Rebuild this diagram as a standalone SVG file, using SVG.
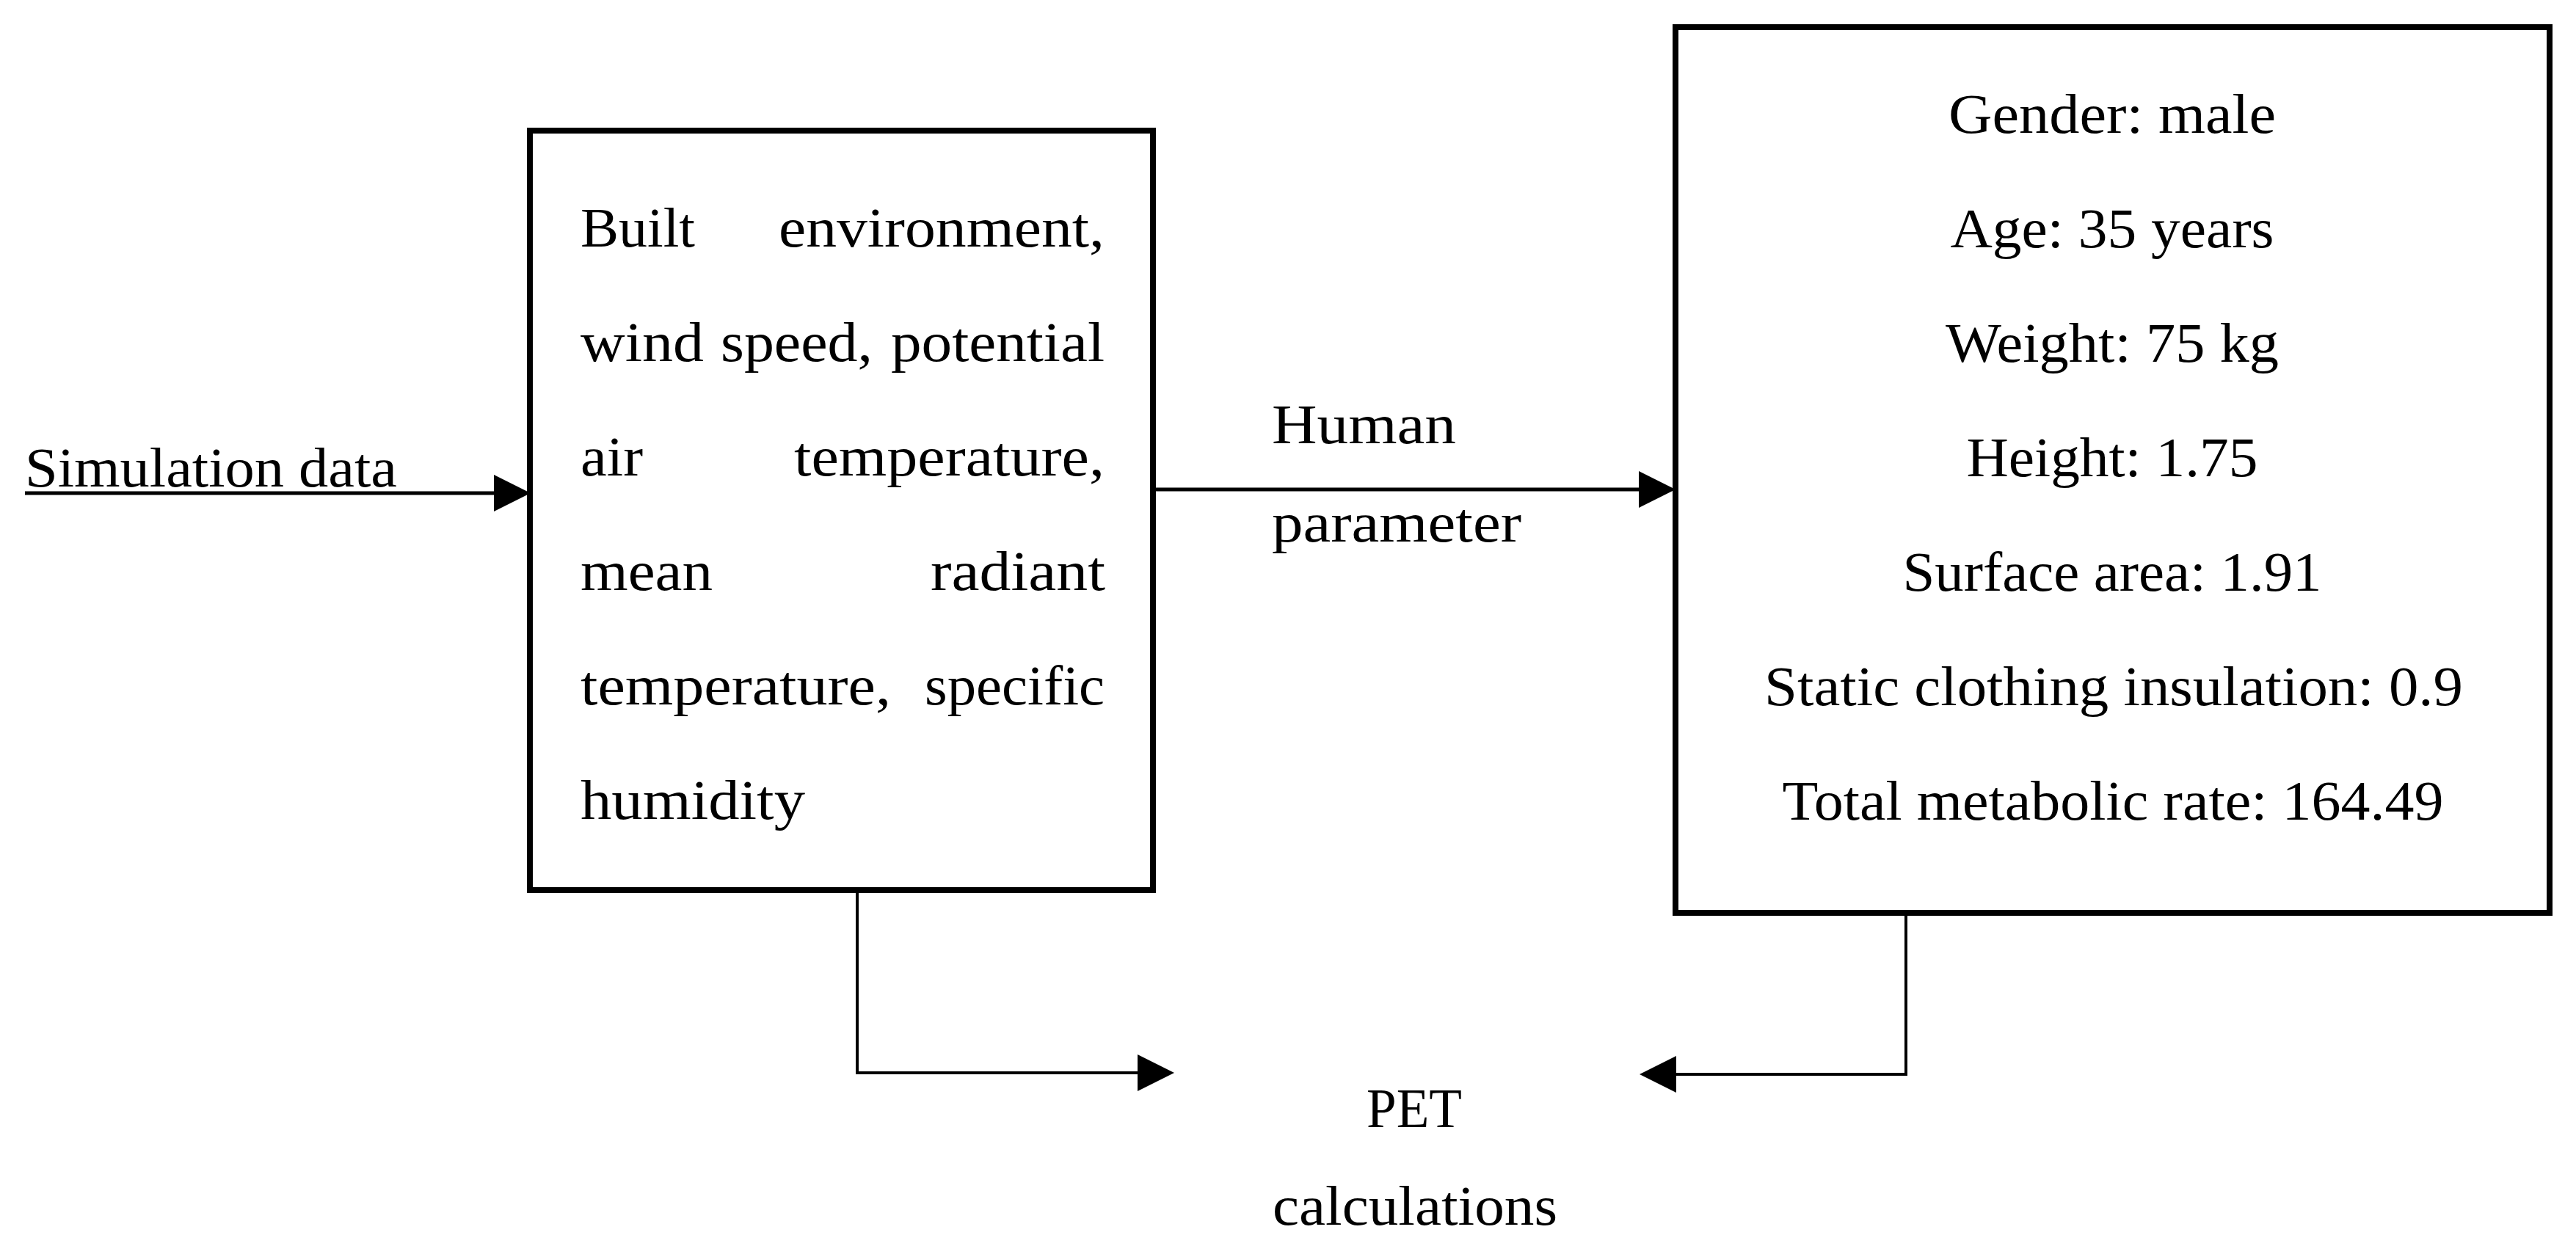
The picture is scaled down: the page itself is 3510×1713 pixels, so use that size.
<svg xmlns="http://www.w3.org/2000/svg" width="3510" height="1713" viewBox="0 0 3510 1713">
<style>
  .box{fill:#fff;stroke:#000;stroke-width:8}
  .t{font-family:"Liberation Serif","Times New Roman",serif;font-size:76px;fill:#000}
  .m{text-anchor:middle}
  .e{text-anchor:end}
  .c{fill:none;stroke:#000;stroke-width:5}
  .c2{fill:none;stroke:#000;stroke-width:4}
</style>
<defs>
  <marker id="ah" markerUnits="userSpaceOnUse" markerWidth="50" markerHeight="50" refX="10" refY="25" orient="auto">
    <path d="M0,0 L50,25 L0,50 Z" fill="#000"/>
  </marker>
</defs>
<rect width="3510" height="1713" fill="#fff"/>
<g id="connectors">
  <line class="c" x1="34" y1="672" x2="683" y2="672" marker-end="url(#ah)"/>
  <line class="c" x1="1571" y1="667" x2="2243" y2="667" marker-end="url(#ah)"/>
  <path class="c2" d="M1168,1217 V1462 H1560" marker-end="url(#ah)"/>
  <path class="c2" d="M2597,1248 V1464 H2274" marker-end="url(#ah)"/>
</g>
<g id="simulation-data">
  <text class="t" x="34" y="663" textLength="507" lengthAdjust="spacingAndGlyphs">Simulation data</text>
</g>
<g id="human-parameter-label">
  <text class="t" x="1733" y="604" textLength="251" lengthAdjust="spacingAndGlyphs">Human</text>
  <text class="t" x="1733" y="738" textLength="340" lengthAdjust="spacingAndGlyphs">parameter</text>
</g>
<g id="inputs-box">
  <rect class="box" x="722" y="178" width="849" height="1035"/>
  <text class="t" x="791" y="336" textLength="156" lengthAdjust="spacingAndGlyphs">Built</text>
  <text class="t" x="1061" y="336" textLength="444" lengthAdjust="spacingAndGlyphs">environment,</text>
  <text class="t" x="791" y="492" textLength="168" lengthAdjust="spacingAndGlyphs">wind</text>
  <text class="t" x="982" y="492" textLength="207" lengthAdjust="spacingAndGlyphs">speed,</text>
  <text class="t" x="1214" y="492" textLength="291" lengthAdjust="spacingAndGlyphs">potential</text>
  <text class="t" x="791" y="648" textLength="85" lengthAdjust="spacingAndGlyphs">air</text>
  <text class="t" x="1082" y="648" textLength="423" lengthAdjust="spacingAndGlyphs">temperature,</text>
  <text class="t" x="791" y="804" textLength="180" lengthAdjust="spacingAndGlyphs">mean</text>
  <text class="t" x="1268" y="804" textLength="238" lengthAdjust="spacingAndGlyphs">radiant</text>
  <text class="t" x="791" y="960" textLength="423" lengthAdjust="spacingAndGlyphs">temperature,</text>
  <text class="t" x="1260" y="960" textLength="245" lengthAdjust="spacingAndGlyphs">specific</text>
  <text class="t" x="791" y="1116" textLength="306" lengthAdjust="spacingAndGlyphs">humidity</text>
</g>
<g id="human-box">
  <rect class="box" x="2283" y="37" width="1191" height="1207"/>
  <text class="t m" x="2878" y="181" textLength="446" lengthAdjust="spacingAndGlyphs">Gender: male</text>
  <text class="t m" x="2878" y="337" textLength="441" lengthAdjust="spacingAndGlyphs">Age: 35 years</text>
  <text class="t m" x="2878" y="493" textLength="454" lengthAdjust="spacingAndGlyphs">Weight: 75 kg</text>
  <text class="t m" x="2878" y="649" textLength="397" lengthAdjust="spacingAndGlyphs">Height: 1.75</text>
  <text class="t m" x="2878" y="805" textLength="571" lengthAdjust="spacingAndGlyphs">Surface area: 1.91</text>
  <text class="t m" x="2880" y="961" textLength="952" lengthAdjust="spacingAndGlyphs">Static clothing insulation: 0.9</text>
  <text class="t m" x="2879" y="1117" textLength="901" lengthAdjust="spacingAndGlyphs">Total metabolic rate: 164.49</text>
</g>
<g id="pet-calculations">
  <text class="t m" x="1927" y="1536" textLength="130" lengthAdjust="spacingAndGlyphs">PET</text>
  <text class="t m" x="1928" y="1669" textLength="388" lengthAdjust="spacingAndGlyphs">calculations</text>
</g>
</svg>
